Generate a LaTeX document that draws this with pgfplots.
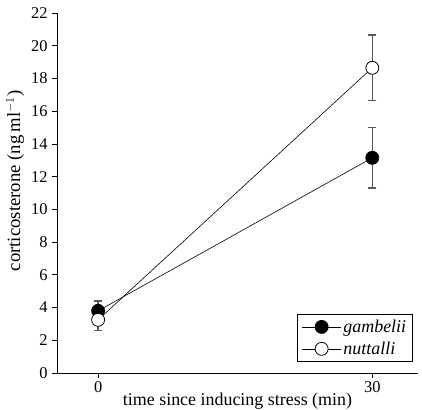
\documentclass[border=0pt]{standalone}
\usepackage{pgfplots}
\pgfplotsset{compat=1.18}
\usepackage{fontspec}
\setmainfont{Liberation Serif}
\begin{document}
\begin{tikzpicture}
\begin{axis}[
  name=ax,
  scale only axis,
  width=361bp, height=360bp,
  xmin=-4.5, xmax=35, ymin=0, ymax=22,
  axis x line*=bottom, axis y line*=left,
  axis line style={-, line width=0.8pt},
  xtick={0,30}, ytick={0,2,...,22},
  tick align=outside, major tick length=5bp,
  tick style={black, line width=0.8pt},
  every tick label/.append style={font=\fontsize{16.5}{18}\selectfont},
  yticklabel style={xshift=-1bp},
  /pgf/number format/assume math mode=true,
  xlabel={time since inducing stress (min)},
  ylabel={corticosterone (ng\,ml$^{-1}$)},
  xlabel style={font=\fontsize{18}{20}\selectfont, yshift=6bp},
  ylabel style={font=\fontsize{18.8}{20}\selectfont, yshift=0bp, xshift=12bp},
  legend style={at={(0.985,0.03)}, anchor=south east, draw=black, line width=0.8pt,
    font=\fontsize{18}{20}\selectfont\itshape, row sep=4bp, inner xsep=4bp, inner ysep=4bp},
  legend cell align=left,
  legend image code/.code={\draw[mark repeat=2,mark phase=2,#1] plot coordinates {(0bp,0bp) (19.5bp,0bp) (39bp,0bp)};},
  clip=false,
]
\addplot[black, line width=0.6pt, mark=*, mark size=6.5bp, mark options={fill=black, line width=0.8pt},
  error bars/.cd, y dir=both, y explicit, error bar style={gray!70!black, line width=1.3pt}, error mark options={rotate=90, mark size=4bp, gray!70!black, line width=1.3pt}]
  coordinates {(0,3.8) +- (0,0.6) (30,13.15) +- (0,1.85)};
\addlegendentry{gambelii}
\addplot[black, line width=0.6pt, mark=*, mark size=6.5bp, mark options={fill=white, line width=0.8pt},
  error bars/.cd, y dir=both, y explicit, error bar style={gray!70!black, line width=1.3pt}, error mark options={rotate=90, mark size=4bp, gray!70!black, line width=1.3pt}]
  coordinates {(0,3.25) +- (0,0.65) (30,18.65) +- (0,2.0)};
\addlegendentry{nuttalli}
\end{axis}
\pgfresetboundingbox
\path ([xshift=-57bp,yshift=-37bp]ax.south west) rectangle ([xshift=4bp,yshift=13bp]ax.north east);
\end{tikzpicture}
\end{document}
